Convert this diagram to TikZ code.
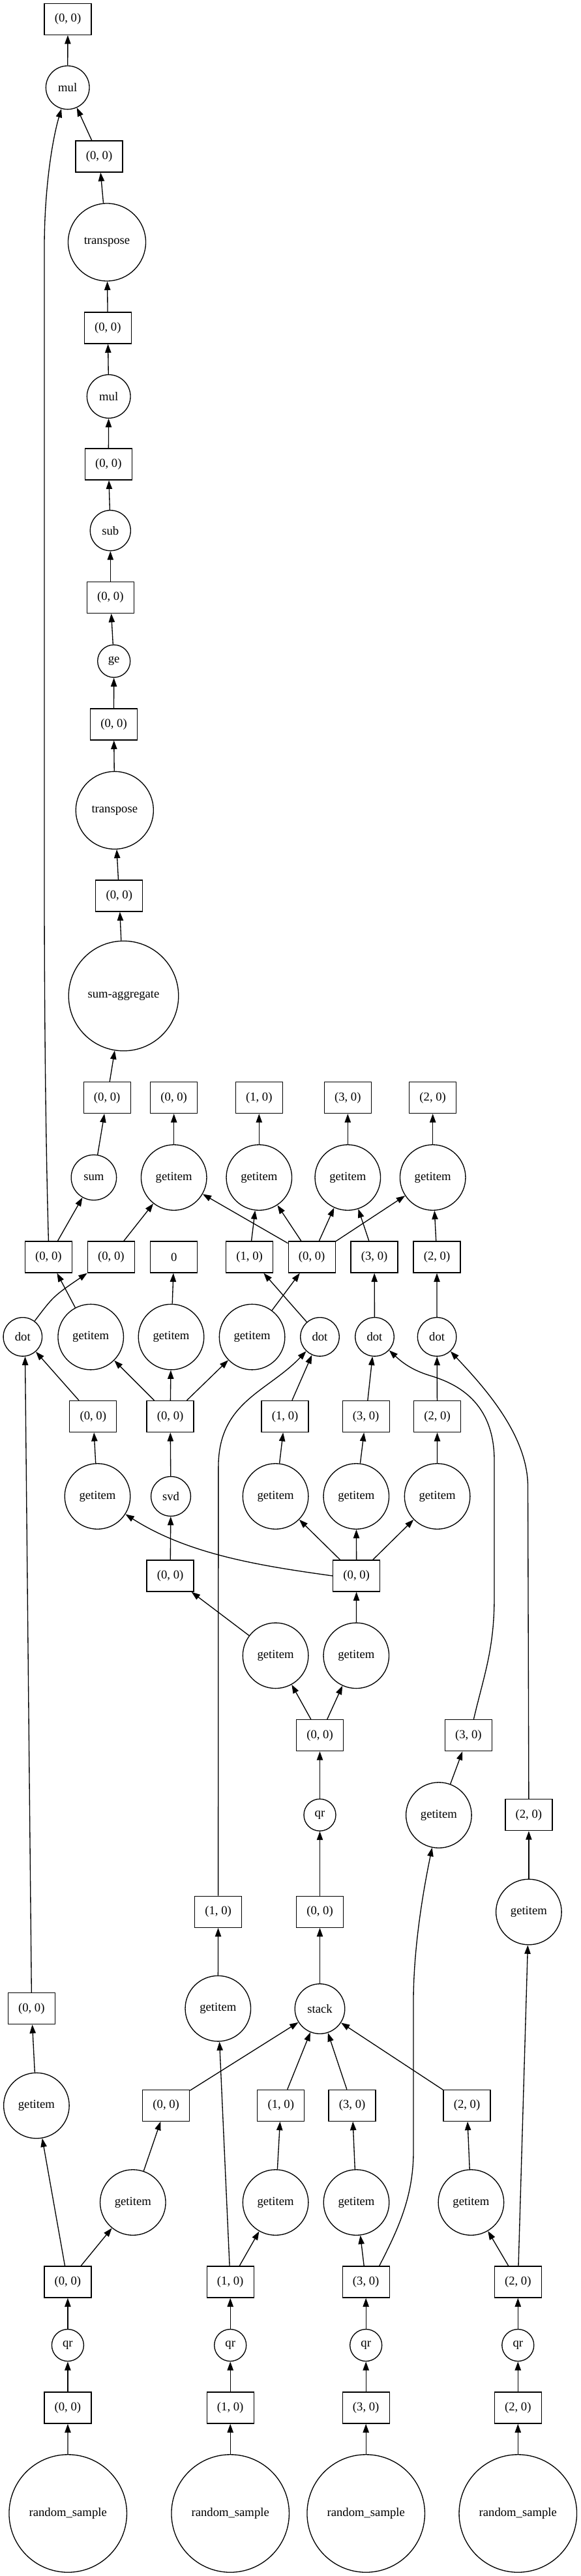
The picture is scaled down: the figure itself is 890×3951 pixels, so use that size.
\documentclass[tikz,border=0pt]{standalone}
\usepackage{fontspec}
\setmainfont{Liberation Serif}
\usetikzlibrary{arrows.meta}

\begin{document}
\begin{tikzpicture}[x=0.75pt,y=-0.75pt,>={Triangle[length=10pt,width=7pt]},line width=1pt,
  every node/.style={font=\fontsize{14}{16}\selectfont},
  blk/.style={draw,minimum width=54pt,minimum height=36pt,inner sep=0pt},
  fn/.style={draw,circle,inner sep=0pt,minimum size=#1}]
  \useasboundingbox (0,0) rectangle (890,3951);
  % top chain
  \node[blk] (out) at (104,29.4) {(0, 0)};
  \node[fn=50pt] (mulA) at (103.7,134.3) {mul};
  \node[blk] (bxA) at (152,240) {(0, 0)};
  \node[fn=89.25pt] (trA) at (164,371.5) {transpose};
  \node[blk] (bxB) at (165.3,503) {(0, 0)};
  \node[fn=50pt] (mulB) at (166.7,608) {mul};
  \node[blk] (bxC) at (166.3,712) {(0, 0)};
  \node[fn=46.5pt] (subA) at (169.3,813.7) {sub};
  \node[blk] (bxD) at (169.3,916.4) {(0, 0)};
  \node[fn=37.5pt] (geA) at (174.7,1014) {ge};
  \node[blk] (bxE) at (174.5,1111) {(0, 0)};
  \node[fn=89.25pt] (trB) at (175.8,1242.8) {transpose};
  \node[blk] (bxF) at (182.8,1374) {(0, 0)};
  \node[fn=126.4pt] (sagg) at (189.5,1527.5) {sum-aggregate};
  % outputs
  \node[blk] (oA) at (164.2,1683.6) {(0, 0)};
  \node[blk] (oB) at (266.7,1683.6) {(0, 0)};
  \node[blk] (oC) at (397.3,1683.6) {(1, 0)};
  \node[blk] (oD) at (533.3,1683.6) {(3, 0)};
  \node[blk] (oE) at (663.7,1683.6) {(2, 0)};
  \node[fn=52.1pt] (sumA) at (143.9,1806) {sum};
  \node[fn=75.4pt] (giA) at (266.7,1806) {getitem};
  \node[fn=75.4pt] (giB) at (397.3,1806) {getitem};
  \node[fn=75.4pt] (giC) at (533.3,1806) {getitem};
  \node[fn=75.4pt] (giD) at (663.7,1806) {getitem};
  \node[blk] (pA) at (74.4,1928) {(0, 0)};
  \node[blk] (pB) at (170.4,1928) {(0, 0)};
  \node[blk] (pC) at (266.7,1928) {0};
  \node[blk] (pD) at (382.6,1928) {(1, 0)};
  \node[blk] (pE) at (478.2,1928) {(0, 0)};
  \node[blk] (pF) at (574.1,1928) {(3, 0)};
  \node[blk] (pG) at (670,1928) {(2, 0)};
  % svd block
  \node[fn=44.6pt] (dotA) at (34.8,2050.4) {dot};
  \node[fn=75.4pt] (giE) at (139.2,2050.6) {getitem};
  \node[fn=75.4pt] (giF) at (262.5,2050.6) {getitem};
  \node[fn=75.4pt] (giG) at (386.6,2050.6) {getitem};
  \node[fn=44.6pt] (dotB) at (490.5,2050.4) {dot};
  \node[fn=44.6pt] (dotC) at (574.5,2050.4) {dot};
  \node[fn=44.6pt] (dotD) at (670.1,2050.4) {dot};
  \node[blk] (qA) at (142.8,2172.5) {(0, 0)};
  \node[blk] (qB) at (261.1,2172.5) {(0, 0)};
  \node[blk] (qC) at (437.1,2172.5) {(1, 0)};
  \node[blk] (qD) at (561.2,2172.5) {(3, 0)};
  \node[blk] (qE) at (670.5,2172.5) {(2, 0)};
  \node[fn=75.4pt] (giH) at (149.5,2295) {getitem};
  \node[fn=45.6pt] (svdA) at (262,2295) {svd};
  \node[fn=75.4pt] (giI) at (422.6,2295) {getitem};
  \node[fn=75.4pt] (giJ) at (546.3,2295) {getitem};
  \node[fn=75.4pt] (giK) at (670.6,2295) {getitem};
  \node[blk] (sA) at (261.1,2417) {(0, 0)};
  \node[blk] (sB) at (546.7,2417) {(0, 0)};
  \node[fn=75.4pt] (giL) at (422.6,2539.3) {getitem};
  \node[fn=75.4pt] (giM) at (546.3,2539.3) {getitem};
  \node[blk] (tA) at (490.5,2661.6) {(0, 0)};
  \node[blk] (tB) at (718.4,2661.6) {(3, 0)};
  \node[fn=36.75pt] (qrM) at (490.5,2783.7) {qr};
  \node[fn=75.4pt] (giN) at (672.9,2784) {getitem};
  \node[blk] (tC) at (810.9,2783.7) {(2, 0)};
  \node[blk] (wA) at (334.6,2932.3) {(1, 0)};
  \node[blk] (wB) at (490.5,2932.3) {(0, 0)};
  \node[fn=75.4pt] (giO) at (810.9,2932.5) {getitem};
  % stack block
  \node[blk] (rA) at (48.3,3080.6) {(0, 0)};
  \node[fn=75.4pt] (giP) at (334.3,3080.6) {getitem};
  \node[fn=57.4pt] (stk) at (490.5,3081) {stack};
  \node[fn=75.4pt] (giQ) at (55.9,3229.5) {getitem};
  \node[blk] (yA) at (254.7,3229.3) {(0, 0)};
  \node[blk] (yB) at (430.8,3229.3) {(1, 0)};
  \node[blk] (yC) at (540.1,3229.3) {(3, 0)};
  \node[blk] (yD) at (716,3229.3) {(2, 0)};
  \node[fn=75.4pt] (giR) at (203.8,3378) {getitem};
  \node[fn=75.4pt] (giS) at (422.6,3378) {getitem};
  \node[fn=75.4pt] (giT) at (546.5,3378) {getitem};
  \node[fn=75.4pt] (giU) at (722.4,3378) {getitem};
  % inputs
  \node[blk] (zA) at (103.9,3500) {(0, 0)};
  \node[blk] (zB) at (353.2,3500) {(1, 0)};
  \node[blk] (zC) at (561.2,3500) {(3, 0)};
  \node[blk] (zD) at (794.3,3500) {(2, 0)};
  \node[fn=36.75pt] (qrA) at (103.9,3597) {qr};
  \node[fn=36.75pt] (qrB) at (353.2,3597) {qr};
  \node[fn=36.75pt] (qrC) at (561.2,3597) {qr};
  \node[fn=36.75pt] (qrD) at (794.3,3597) {qr};
  \node[blk] (aA) at (103.9,3693) {(0, 0)};
  \node[blk] (aB) at (353.2,3693) {(1, 0)};
  \node[blk] (aC) at (561.2,3693) {(3, 0)};
  \node[blk] (aD) at (794.3,3693) {(2, 0)};
  \node[fn=135.4pt] (rsA) at (104.2,3855) {random\_sample};
  \node[fn=135.4pt] (rsB) at (353.2,3855) {random\_sample};
  \node[fn=135.4pt] (rsC) at (561.2,3855) {random\_sample};
  \node[fn=135.4pt] (rsD) at (794.3,3855) {random\_sample};
  % edges
  \draw[->] (mulA) -- (out);
  \draw[->] (bxA) -- (mulA);
  \draw[->] (trA) -- (bxA);
  \draw[->] (bxB) -- (trA);
  \draw[->] (mulB) -- (bxB);
  \draw[->] (bxC) -- (mulB);
  \draw[->] (subA) -- (bxC);
  \draw[->] (bxD) -- (subA);
  \draw[->] (geA) -- (bxD);
  \draw[->] (bxE) -- (geA);
  \draw[->] (trB) -- (bxE);
  \draw[->] (bxF) -- (trB);
  \draw[->] (sagg) -- (bxF);
  \draw[->] (oA) -- (sagg);
  \draw[->] (sumA) -- (oA);
  \draw[->] (giA) -- (oB);
  \draw[->] (giB) -- (oC);
  \draw[->] (giC) -- (oD);
  \draw[->] (giD) -- (oE);
  \draw[->] (pA.north) .. controls (70,1750) and (68,1550) .. (68,1350) -- (68,380)
    .. controls (68,290) and (80,215) .. (mulA);
  \draw[->] (pA) -- (sumA);
  \draw[->] (pB) -- (giA);
  \draw[->] (pE) -- (giA);
  \draw[->] (pD) -- (giB);
  \draw[->] (pE) -- (giB);
  \draw[->] (pE) -- (giC);
  \draw[->] (pF) -- (giC);
  \draw[->] (pE) -- (giD);
  \draw[->] (pG) -- (giD);
  \draw[->] (dotA) .. controls (82,1988) .. (pB.south west);
  \draw[->] (giE) -- (pA);
  \draw[->] (giF) -- (pC);
  \draw[->] (giG) -- (pE);
  \draw[->] (dotB) -- (pD);
  \draw[->] (dotC) -- (pF);
  \draw[->] (dotD) -- (pG);
  \draw[->] (qA) -- (dotA);
  \draw[->] (qB) -- (giE);
  \draw[->] (qB) -- (giF);
  \draw[->] (qB) -- (giG);
  \draw[->] (qC) -- (dotB);
  \draw[->] (qD) -- (dotC);
  \draw[->] (qE) -- (dotD);
  \draw[->] (giH) -- (qA);
  \draw[->] (svdA) -- (qB);
  \draw[->] (giI) -- (qC);
  \draw[->] (giJ) -- (qD);
  \draw[->] (giK) -- (qE);
  \draw[->] (sA) -- (svdA);
  \draw[->] (sB.west) .. controls (403,2402) and (290,2385) .. (giH);
  \draw[->] (sB) -- (giI);
  \draw[->] (sB) -- (giJ);
  \draw[->] (sB) -- (giK);
  \draw[->] (giL) -- (sA);
  \draw[->] (giM) -- (sB);
  \draw[->] (tA) -- (giL);
  \draw[->] (tA) -- (giM);
  \draw[->] (qrM) -- (tA);
  \draw[->] (wB) -- (qrM);
  \draw[->] (stk) -- (wB);
  \draw[->] (wA.north) -- (334.9,2250) .. controls (334.9,2150) and (410,2135) .. (dotB);
  \draw[->] (giP) -- (wA);
  \draw[->] (giN) -- (tB);
  \draw[->] ([xshift=6pt]tB.north) .. controls (742,2570) and (758,2530) .. (758,2450) -- (758,2240)
    .. controls (758,2150) and (700,2122) .. (660,2110) .. controls (630,2101) and (615,2088) .. (dotC);
  \draw[->] (giO) -- (tC);
  \draw[->] (tC.north) -- (809.5,2280) .. controls (809.5,2200) and (740,2125) .. (dotD);
  \draw[->] (rA.north) -- (dotA.-83);
  \draw[->] (giQ) -- (rA);
  \draw[->] (yA) -- (stk);
  \draw[->] (yB) -- (stk);
  \draw[->] (yC) -- (stk);
  \draw[->] (yD) -- (stk);
  \draw[->] (giR) -- (yA);
  \draw[->] (giS) -- (yB);
  \draw[->] (giT) -- (yC);
  \draw[->] (giU) -- (yD);
  \draw[->] (zA) -- (giQ);
  \draw[->] (zA) -- (giR);
  \draw[->] (zB) -- (giP);
  \draw[->] (zB) -- (giS);
  \draw[->] (zC) -- (giT);
  \draw[->] ([xshift=15.4pt]zC.north) .. controls (610,3420) and (634,3370) .. (634,3300) -- (634,3070)
    .. controls (634,2990) and (648,2905) .. (giN);
  \draw[->] (zD) -- (giU);
  \draw[->] (zD) -- (giO);
  \draw[->] (qrA) -- (zA);
  \draw[->] (qrB) -- (zB);
  \draw[->] (qrC) -- (zC);
  \draw[->] (qrD) -- (zD);
  \draw[->] (aA) -- (qrA);
  \draw[->] (aB) -- (qrB);
  \draw[->] (aC) -- (qrC);
  \draw[->] (aD) -- (qrD);
  \draw[->] (rsA) -- (aA);
  \draw[->] (rsB) -- (aB);
  \draw[->] (rsC) -- (aC);
  \draw[->] (rsD) -- (aD);
\end{tikzpicture}
\end{document}
